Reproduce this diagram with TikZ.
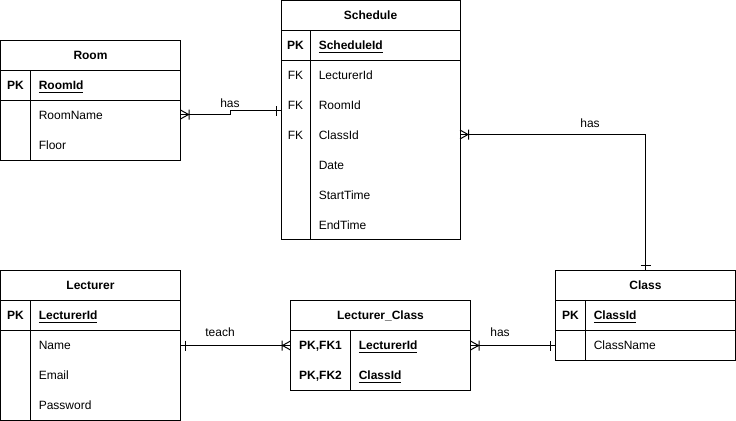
\documentclass[tikz,border=0pt]{standalone}
\usepackage{fontspec}
\setmainfont{Liberation Sans}
\usetikzlibrary{calc}
\tikzset{
  ent/.style={draw=black,line width=0.75pt,inner sep=0pt,outer sep=0pt,anchor=north west},
  sep/.style={draw=black,line width=0.75pt},
  hdr/.style={font=\fontsize{9}{10}\selectfont\bfseries,inner sep=0pt,text height=6.5pt,text depth=0pt},
  fld/.style={font=\fontsize{9}{10}\selectfont,inner sep=0pt,anchor=west,text height=6.5pt,text depth=0pt},
  keyb/.style={font=\fontsize{9}{10}\selectfont\bfseries,inner sep=0pt,text height=6.5pt,text depth=0pt},
  keyn/.style={font=\fontsize{9}{10}\selectfont,inner sep=0pt,text height=6.5pt,text depth=0pt},
  rel/.style={draw=black,line width=0.75pt},
  lbl/.style={font=\fontsize{9}{10}\selectfont,inner sep=0pt,text height=6.5pt,text depth=0pt},
}
\newcommand\erFork[2]{\begin{scope}[shift={(#1)},rotate=#2]\draw[rel] (0,-4.5) -- (8,0) -- (0,4.5) (8.5,-5) -- (8.5,5);\end{scope}}
\newcommand\erBar[2]{\begin{scope}[shift={(#1)},rotate=#2]\draw[rel] (5,-5) -- (5,5);\end{scope}}
\newcommand\pkn[1]{\underline{\textbf{#1}}}
\begin{document}
\begin{tikzpicture}[x=0.75pt,y=-0.75pt]
\useasboundingbox (0,0) rectangle (736,421);
% ---------- Room ----------
\node[ent,minimum width=135pt,minimum height=90pt] (room) at (0.5,40.5) {};
\draw[sep] (0.5,70.5) -- (180.5,70.5) (0.5,100.5) -- (180.5,100.5) (30.5,70.5) -- (30.5,160.5);
\node[hdr] (roomT) at (90.5,55.5) {Room};
\node[keyb] (roomK) at (15.5,85.5) {PK};
\node[fld] (roomF1) at (38.5,85.5) {\pkn{RoomId}};
\node[fld] (roomF2) at (38.5,115.5) {RoomName};
\node[fld] (roomF3) at (38.5,145.5) {Floor};
% ---------- Schedule ----------
\node[ent,minimum width=134.25pt,minimum height=179.25pt] (sch) at (281,0.5) {};
\draw[sep] (281,30.5) -- (460,30.5) (281,60.5) -- (460,60.5) (310.5,30.5) -- (310.5,240);
\node[hdr] (schT) at (370.5,15.5) {Schedule};
\node[keyb] (schK) at (295.5,45.5) {PK};
\node[fld] (schF1) at (318.5,45.5) {\pkn{ScheduleId}};
\node[keyn] (schK2) at (295.5,75.5) {FK};
\node[fld] (schF2) at (318.5,75.5) {LecturerId};
\node[keyn] (schK3) at (295.5,105.5) {FK};
\node[fld] (schF3) at (318.5,105.5) {RoomId};
\node[keyn] (schK4) at (295.5,135.5) {FK};
\node[fld] (schF4) at (318.5,135.5) {ClassId};
\node[fld] (schF5) at (318.5,165.5) {Date};
\node[fld] (schF6) at (318.5,195.5) {StartTime};
\node[fld] (schF7) at (318.5,225.5) {EndTime};
% ---------- Lecturer ----------
\node[ent,minimum width=135pt,minimum height=112.5pt] (lec) at (0.5,270.5) {};
\draw[sep] (0.5,300.5) -- (180.5,300.5) (0.5,330.5) -- (180.5,330.5) (30.5,300.5) -- (30.5,420.5);
\node[hdr] (lecT) at (90.5,285.5) {Lecturer};
\node[keyb] (lecK) at (15.5,315.5) {PK};
\node[fld] (lecF1) at (38.5,315.5) {\pkn{LecturerId}};
\node[fld] (lecF2) at (38.5,345.5) {Name};
\node[fld] (lecF3) at (38.5,375.5) {Email};
\node[fld] (lecF4) at (38.5,405.5) {Password};
% ---------- Lecturer_Class ----------
\node[ent,minimum width=135pt,minimum height=67.5pt] (lc) at (290.5,300.5) {};
\draw[sep] (290.5,330.5) -- (470.5,330.5) (350.5,330.5) -- (350.5,390.5);
\node[hdr] (lcT) at (380.5,315.5) {Lecturer\_Class};
\node[keyb] (lcK1) at (320.5,345.5) {PK,FK1};
\node[fld] (lcF1) at (358.5,345.5) {\pkn{LecturerId}};
\node[keyb] (lcK2) at (320.5,375.5) {PK,FK2};
\node[fld] (lcF2) at (358.5,375.5) {\pkn{ClassId}};
% ---------- Class ----------
\node[ent,minimum width=135pt,minimum height=67.5pt] (cls) at (555.5,270.5) {};
\draw[sep] (555.5,300.5) -- (735.5,300.5) (555.5,330.5) -- (735.5,330.5) (585.5,300.5) -- (585.5,360.5);
\node[hdr] (clsT) at (645.5,285.5) {Class};
\node[keyb] (clsK) at (570.5,315.5) {PK};
\node[fld] (clsF1) at (593.5,315.5) {\pkn{ClassId}};
\node[fld] (clsF2) at (593.5,345.5) {ClassName};
% ---------- connectors ----------
\coordinate (rsA) at (room.east |- 0,114.5);
\coordinate (rsB) at (sch.west |- 0,110.5);
\draw[rel] (rsA) -- (230,114.5) -- (230,110.5) -- (rsB);
\erFork{rsA}{0}
\erBar{rsB}{180}
\node[lbl] (rsL) at (230,103) {has};
\coordinate (scA) at (sch.east |- 0,134.5);
\coordinate (scB) at (cls.north -| 645.5,0);
\draw[rel] (scA) -| (scB);
\erFork{scA}{0}
\erBar{scB}{90}
\node[lbl] (scL) at (590,123) {has};
\coordinate (llA) at (lec.east |- 0,345.5);
\coordinate (llB) at (lc.west |- 0,345.5);
\draw[rel] (llA) -- (llB);
\erBar{llA}{0}
\erFork{llB}{180}
\node[lbl] (llL) at (220,332.5) {teach};
\coordinate (lcA) at (lc.east |- 0,345.5);
\coordinate (lcB) at (cls.west |- 0,345.5);
\draw[rel] (lcA) -- (lcB);
\erFork{lcA}{0}
\erBar{lcB}{180}
\node[lbl] (lcL) at (500,332.5) {has};
\end{tikzpicture}
\end{document}
